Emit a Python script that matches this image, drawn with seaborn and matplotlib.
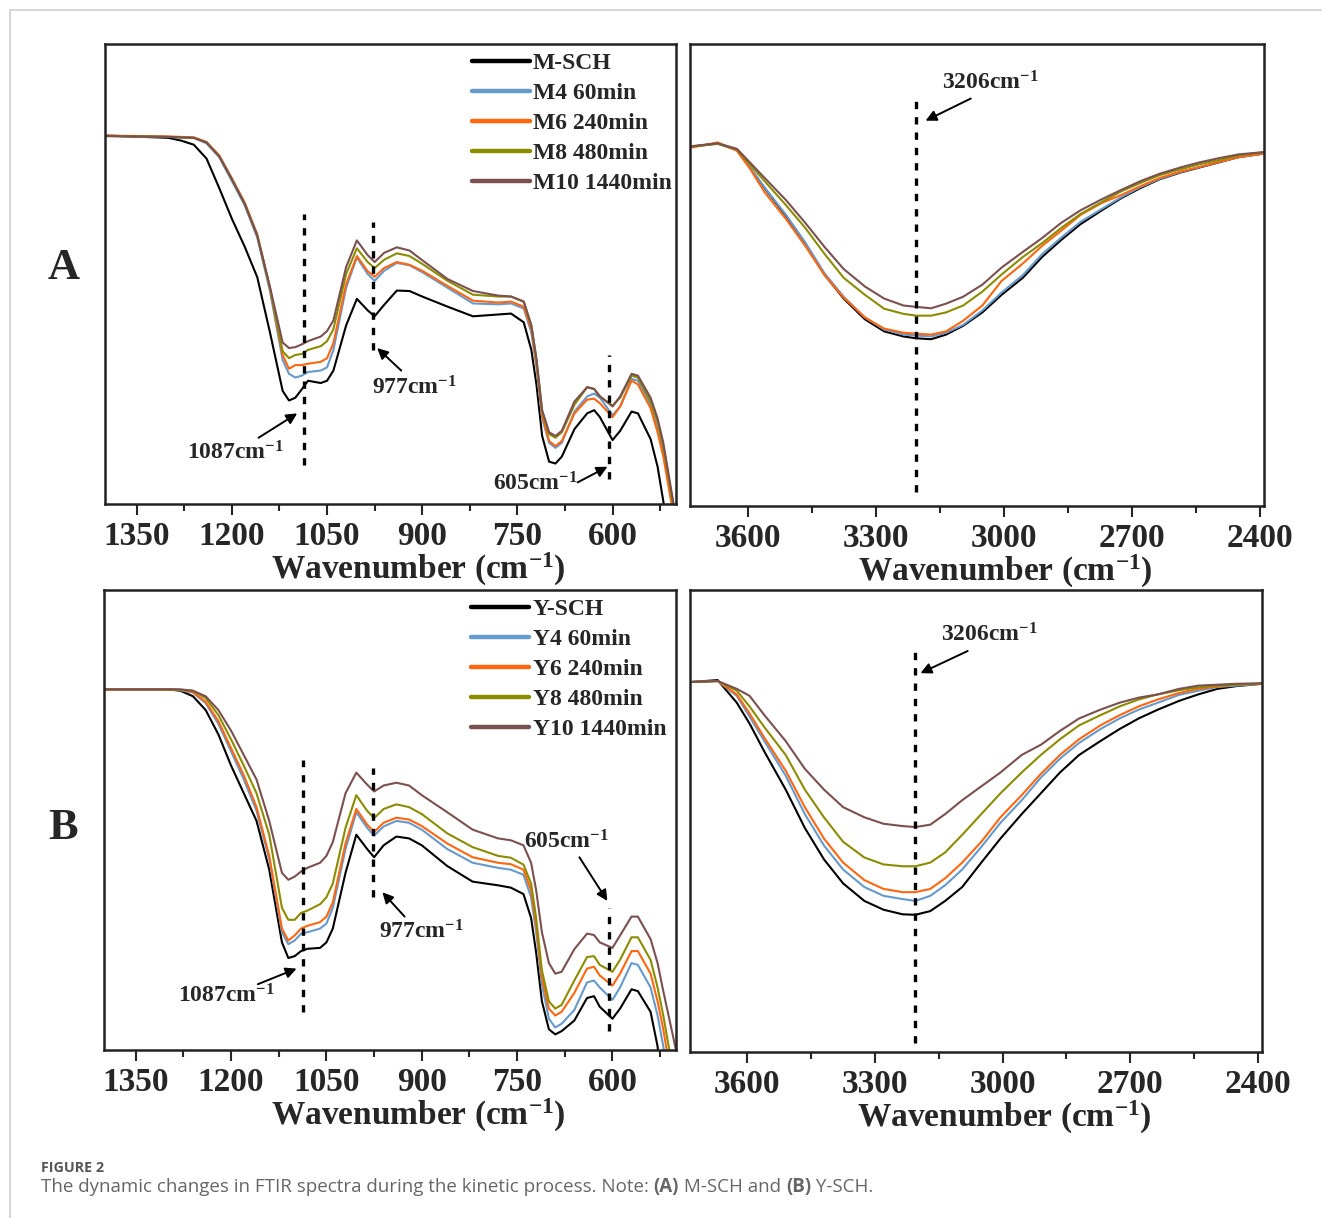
import pandas as pd
import seaborn as sns
import matplotlib.pyplot as plt
from matplotlib.lines import Line2D
from matplotlib.ticker import MultipleLocator

# wavenumber grids (cm-1)
wn_low = [1400, 1300, 1280, 1260, 1240, 1220, 1200, 1180, 1160, 1140, 1120, 1110,
          1100, 1090, 1080, 1060, 1050, 1040, 1020, 1003, 986, 975, 960, 940, 920,
          900, 860, 820, 780, 760, 740, 728, 720, 711, 700, 690, 680, 660, 640, 629,
          620, 600, 588, 570, 560, 540, 529, 520, 500]
wn_high = [3730, 3670, 3625, 3595, 3560, 3510, 3465, 3420, 3375, 3325, 3280, 3235,
           3205, 3170, 3135, 3095, 3050, 3005, 2955, 2910, 2865, 2820, 2770, 2725,
           2680, 2635, 2585, 2540, 2495, 2450, 2390]

labels_a = ['M-SCH', 'M4 60min', 'M6 240min', 'M8 480min', 'M10 1440min']
labels_b = ['Y-SCH', 'Y4 60min', 'Y6 240min', 'Y8 480min', 'Y10 1440min']
colors = ['#000000', '#6699cc', '#ff6610', '#8c8c00', '#7b5050']

# panel A, 1400-500 cm-1 (relative transmittance, arbitrary units)
a_low_sch = [80.1, 79.6, 79.0, 78.1, 75.1, 68.7, 62.0, 56.0, 49.3, 37.3, 24.6, 22.5,
             23.1, 24.9, 26.8, 26.3, 26.8, 29.0, 38.8, 44.6, 42.1, 40.8, 43.3, 46.4,
             46.3, 45.1, 42.9, 40.8, 41.2, 41.4, 39.5, 33.5, 26.0, 14.8, 9.2, 8.8,
             10.3, 16.3, 19.7, 20.4, 18.9, 13.9, 15.9, 20.1, 19.7, 14.1, 8.1, 0.6, -18.9]
a_low_4 = [80.0, 79.8, 79.7, 79.6, 78.4, 75.4, 70.2, 65.0, 57.9, 46.3, 31.3, 28.3,
           27.5, 27.9, 28.7, 29.0, 29.7, 33.5, 47.0, 53.6, 50.0, 48.5, 50.7, 52.4,
           51.9, 50.4, 47.0, 43.6, 43.4, 43.6, 42.5, 37.3, 29.8, 18.6, 13.3, 12.2,
           13.3, 20.1, 23.4, 24.0, 23.1, 19.3, 21.2, 27.2, 26.8, 21.6, 16.3, 11.1, -5.4]
a_low_6 = [80.1, 79.9, 79.8, 79.7, 78.7, 75.8, 70.8, 65.6, 58.6, 47.0, 32.4, 29.4,
           30.2, 30.2, 30.5, 30.9, 31.7, 35.0, 47.8, 53.9, 50.6, 49.4, 51.3, 52.6,
           52.0, 50.7, 47.4, 44.2, 43.8, 44.0, 42.9, 38.0, 30.5, 19.3, 13.7, 12.6,
           13.7, 19.7, 22.7, 22.9, 21.9, 18.9, 21.2, 26.8, 26.0, 20.8, 15.6, 10.3, -5.4]
a_low_8 = [80.0, 79.8, 79.7, 79.6, 78.6, 75.6, 70.6, 65.3, 58.3, 46.9, 33.2, 31.7,
           32.4, 32.6, 33.5, 34.3, 35.4, 38.0, 50.0, 55.6, 52.6, 51.3, 53.1, 54.5,
           53.9, 52.2, 48.5, 45.5, 45.1, 45.1, 44.0, 38.8, 31.3, 20.1, 15.2, 14.4,
           15.6, 21.6, 25.4, 25.0, 23.4, 21.4, 23.1, 27.9, 27.5, 22.3, 17.8, 12.6, -3.9]
a_low_10 = [80.0, 79.8, 79.7, 79.6, 78.6, 75.6, 70.6, 65.3, 58.4, 47.2, 35.1, 33.9,
            34.1, 34.7, 35.4, 36.4, 37.6, 39.9, 51.5, 57.3, 54.1, 52.6, 54.6, 55.8,
            55.1, 53.0, 48.9, 46.3, 45.3, 45.1, 44.0, 38.8, 31.7, 20.4, 15.6, 14.8,
            15.9, 22.3, 25.4, 25.0, 23.4, 21.2, 23.4, 28.3, 27.9, 23.1, 18.6, 13.3, -3.1]

# panel A, 3730-2390 cm-1
a_high_sch = [77.8, 78.5, 77.0, 73.3, 68.8, 62.8, 56.9, 50.1, 44.9, 40.4, 37.8, 36.7,
              36.3, 36.1, 37.1, 39.0, 41.9, 45.7, 49.4, 53.9, 57.6, 61.0, 64.0, 66.6,
              68.8, 70.7, 72.2, 73.3, 74.4, 75.5, 76.3]
a_high_4 = [77.8, 78.4, 77.2, 73.4, 68.9, 63.0, 57.0, 50.4, 45.3, 40.8, 38.2, 37.1,
            36.9, 36.7, 37.5, 39.2, 42.3, 46.2, 50.0, 54.5, 58.1, 61.5, 64.3, 66.8,
            69.0, 70.8, 72.3, 73.4, 74.5, 75.5, 76.3]
a_high_6 = [77.6, 78.7, 76.9, 73.1, 67.9, 62.1, 56.3, 50.0, 45.1, 40.8, 38.4, 37.5,
            37.3, 37.1, 37.8, 40.1, 43.4, 48.7, 52.5, 56.3, 59.6, 63.0, 65.6, 67.3,
            69.2, 71.0, 72.4, 73.4, 74.5, 75.5, 76.3]
a_high_8 = [77.8, 78.4, 77.2, 74.0, 70.3, 65.1, 60.2, 54.6, 49.4, 45.7, 42.7, 41.6,
            41.2, 41.2, 41.9, 43.4, 46.4, 50.1, 53.9, 56.9, 60.2, 63.2, 65.8, 68.1,
            69.9, 71.6, 72.9, 74.0, 74.9, 75.9, 76.6]
a_high_10 = [77.9, 78.5, 77.3, 74.4, 71.0, 66.2, 61.3, 56.1, 51.3, 47.5, 44.9, 43.4,
             43.1, 42.8, 43.8, 45.3, 47.9, 51.6, 55.0, 58.0, 61.3, 64.0, 66.4, 68.4,
             70.3, 71.9, 73.3, 74.4, 75.3, 76.1, 76.6]

# panel B, 1400-500 cm-1
b_low_sch = [78.4, 78.4, 78.1, 76.9, 73.9, 68.6, 61.8, 55.8, 49.8, 39.2, 23.4, 20.0,
             20.4, 21.5, 22.0, 22.2, 23.4, 26.4, 38.5, 46.8, 43.7, 41.9, 44.5, 46.4,
             46.0, 44.5, 40.0, 36.6, 35.8, 35.3, 33.9, 28.7, 21.1, 10.6, 4.5, 3.4,
             4.1, 6.4, 11.3, 11.7, 9.4, 6.8, 9.0, 13.2, 12.8, 8.3, 0.8, -12.1, -27.1]
b_low_4 = [78.4, 78.4, 78.2, 77.7, 75.4, 70.9, 64.9, 58.8, 52.0, 41.5, 25.6, 23.0,
           23.8, 25.3, 25.6, 26.4, 27.5, 30.9, 43.7, 51.7, 48.3, 46.6, 48.6, 49.8,
           49.4, 47.9, 43.7, 40.7, 39.6, 39.2, 38.1, 33.2, 25.6, 14.3, 6.8, 4.9,
           5.7, 8.7, 14.7, 15.1, 13.6, 10.9, 13.6, 18.9, 18.5, 13.6, 7.5, 0.8, -19.6]
b_low_6 = [78.4, 78.4, 78.3, 77.8, 75.7, 71.5, 65.6, 59.7, 52.8, 42.2, 26.4, 23.8,
           24.9, 26.4, 27.0, 27.8, 29.0, 32.1, 44.9, 52.4, 49.0, 47.4, 49.4, 50.5,
           50.1, 48.7, 44.9, 41.9, 40.7, 40.4, 39.2, 34.7, 27.1, 15.8, 9.0, 7.5,
           8.3, 12.4, 17.7, 18.1, 16.2, 14.0, 16.6, 21.5, 21.5, 16.6, 10.6, 4.5, -12.1]
b_low_8 = [78.4, 78.4, 78.3, 78.1, 76.5, 72.8, 67.5, 61.8, 55.8, 46.8, 30.9, 28.3,
           28.3, 29.8, 30.3, 31.7, 33.2, 36.2, 48.3, 55.4, 52.0, 50.4, 52.4, 53.4,
           52.8, 51.3, 47.1, 44.1, 42.2, 41.8, 40.3, 36.2, 28.7, 17.3, 10.6, 9.0,
           9.8, 15.1, 20.2, 20.4, 18.5, 17.0, 19.6, 24.5, 24.5, 19.6, 13.6, 7.5, -8.3]
b_low_10 = [78.4, 78.4, 78.4, 78.1, 76.9, 73.9, 69.4, 64.1, 58.8, 49.8, 38.5, 37.0,
            37.7, 38.8, 39.6, 40.7, 42.2, 45.2, 55.8, 60.3, 57.7, 56.2, 57.5, 58.1,
            57.5, 55.4, 51.7, 47.9, 46.0, 45.6, 44.5, 40.7, 34.7, 25.6, 18.9, 16.6,
            17.0, 21.9, 25.3, 25.0, 23.4, 22.2, 24.9, 29.0, 29.0, 24.1, 18.9, 12.8, 0.0]

# panel B, 3730-2390 cm-1
b_high_sch = [80.1, 80.5, 75.6, 71.1, 65.0, 56.8, 48.5, 41.7, 36.5, 32.7, 30.8, 29.8,
              29.7, 30.5, 32.7, 35.7, 41.0, 46.2, 51.5, 56.0, 60.5, 64.3, 67.3, 69.9,
              72.2, 74.1, 76.0, 77.4, 78.6, 79.2, 79.7]
b_high_4 = [80.1, 80.3, 77.1, 72.6, 67.3, 59.8, 51.5, 44.7, 39.5, 35.7, 33.8, 33.1,
            32.7, 33.8, 36.1, 39.5, 44.4, 49.6, 54.5, 59.4, 63.5, 66.9, 69.9, 72.2,
            74.1, 75.6, 77.3, 78.2, 79.0, 79.3, 79.7]
b_high_6 = [80.1, 80.3, 77.4, 73.3, 68.0, 60.9, 53.0, 46.2, 41.0, 37.2, 35.3, 34.6,
            34.6, 35.3, 37.6, 41.0, 45.5, 50.8, 55.6, 60.2, 64.3, 67.7, 70.7, 72.9,
            74.8, 76.3, 77.7, 78.6, 79.1, 79.5, 79.7]
b_high_8 = [80.1, 80.3, 78.2, 74.8, 70.3, 64.3, 56.8, 50.8, 45.5, 42.1, 40.6, 40.2,
            40.2, 41.0, 43.2, 47.0, 51.5, 56.0, 60.5, 64.3, 67.7, 70.7, 72.9, 74.8,
            76.3, 77.4, 78.3, 78.9, 79.3, 79.5, 79.8]
b_high_10 = [80.1, 80.3, 78.6, 77.1, 72.9, 67.3, 61.3, 56.8, 53.0, 50.8, 49.4, 48.9,
             48.7, 49.2, 51.5, 54.5, 57.5, 60.5, 64.3, 66.5, 69.5, 72.2, 74.1, 75.6,
             76.7, 77.4, 78.6, 79.3, 79.5, 79.7, 79.8]

sns.set_style('ticks')
plt.rcParams['font.family'] = ['Liberation Serif', 'DejaVu Serif']
plt.rcParams['font.weight'] = 'bold'
plt.rcParams['mathtext.fontset'] = 'custom'
plt.rcParams['mathtext.rm'] = 'Liberation Serif:bold'
plt.rcParams['mathtext.bf'] = 'Liberation Serif:bold'
plt.rcParams['mathtext.it'] = 'Liberation Serif:bold:italic'
plt.rcParams['mathtext.default'] = 'bf'

CM = r'cm$^{-1}$'


def draw_panel(ax, wn, curves, labels, xlim, legend=False):
    df = pd.concat([pd.DataFrame({'wn': wn, 'T': c, 'sample': lab})
                    for c, lab in zip(curves, labels)])
    sns.lineplot(data=df, x='wn', y='T', hue='sample', palette=colors,
                 estimator=None, linewidth=1.5, ax=ax, legend=legend)
    ax.set_xlim(*xlim)
    ax.set_ylim(0, 100)
    ax.set_yticks([])
    ax.set_ylabel('')
    ax.set_xlabel('Wavenumber (' + CM + ')', fontsize=24, fontweight='bold')
    ax.xaxis.set_label_coords(0.5 + 28 / 571, -0.102)
    step = 150 if xlim[0] < 2000 else 300
    ax.xaxis.set_major_locator(MultipleLocator(step))
    ax.xaxis.set_minor_locator(MultipleLocator(step / 2))
    ax.tick_params(axis='x', which='major', length=8, width=1.5, labelsize=24, pad=4)
    ax.tick_params(axis='x', which='minor', length=5, width=1.5)
    for lab in ax.get_xticklabels():
        lab.set_fontweight('bold')
    for s in ax.spines.values():
        s.set_linewidth(1.8)
        s.set_color('#222222')
    if legend:
        h, l = ax.get_legend_handles_labels()
        leg = ax.legend(h, l, loc='upper left', bbox_to_anchor=(0.638, 0.986),
                        frameon=False, fontsize=17, handlelength=2.45,
                        handletextpad=0.15, labelspacing=0.36, borderpad=0.1,
                        borderaxespad=0)
        for line in leg.get_lines():
            line.set_linewidth(3.2)
        for t in leg.get_texts():
            t.set_fontweight('bold')


def mark(ax, x, y0, y1):
    ax.plot([x, x], [y0, y1], color='black', lw=2.4, linestyle=(0, (2.2, 2.4)))


def note(ax, text, pos, tail, head):
    ax.text(pos[0], pos[1], text, fontsize=17, fontweight='bold',
            ha='center', va='center')
    ax.annotate('', xy=head, xytext=tail,
                arrowprops=dict(arrowstyle='-|>', color='black', lw=1.4,
                                mutation_scale=16, shrinkA=0, shrinkB=0))


fig = plt.figure(figsize=(13.22, 12.18), dpi=100)
W, H = 1322, 1218
ax_a1 = fig.add_axes([105 / W, 1 - 504 / H, 571 / W, 460 / H])
ax_a2 = fig.add_axes([690 / W, 1 - 506 / H, 574 / W, 462 / H])
ax_b1 = fig.add_axes([104 / W, 1 - 1050 / H, 572 / W, 460 / H])
ax_b2 = fig.add_axes([690 / W, 1 - 1052 / H, 572 / W, 462 / H])

draw_panel(ax_a1, wn_low, [a_low_sch, a_low_4, a_low_6, a_low_8, a_low_10],
           labels_a, (1400, 500), legend=True)
draw_panel(ax_a2, wn_high, [a_high_sch, a_high_4, a_high_6, a_high_8, a_high_10],
           labels_a, (3735, 2390))
draw_panel(ax_b1, wn_low, [b_low_sch, b_low_4, b_low_6, b_low_8, b_low_10],
           labels_b, (1400, 500), legend=True)
draw_panel(ax_b2, wn_high, [b_high_sch, b_high_4, b_high_6, b_high_8, b_high_10],
           labels_b, (3735, 2390))

# band markers and labels
mark(ax_a1, 1087, 8.5, 63.1)
mark(ax_a1, 977, 33.5, 61.2)
mark(ax_a1, 605, 5.5, 32.4)
note(ax_a1, '1087' + CM, (1194, 11.1), (1158, 14.4), (1097, 19.7))
note(ax_a1, '977' + CM, (912, 25.3), (933, 29.0), (971, 33.9))
note(ax_a1, '605' + CM, (722, 4.3), (655, 4.7), (608, 8.1))

mark(ax_a2, 3206, 3.1, 89.0)
note(ax_a2, '3206' + CM, (3031, 91.6), (3077, 88.2), (3183, 83.4))

mark(ax_b1, 1087, 8.3, 63.0)
mark(ax_b1, 977, 33.2, 61.2)
mark(ax_b1, 605, 4.1, 30.9)
note(ax_b1, '1087' + CM, (1208, 11.7), (1158, 14.3), (1097, 17.7))
note(ax_b1, '977' + CM, (901, 25.6), (927, 29.0), (962, 34.3))
note(ax_b1, '605' + CM, (673, 45.2), (652, 41.9), (608, 32.4))

mark(ax_b2, 3206, 1.9, 87.6)
note(ax_b2, '3206' + CM, (3031, 90.2), (3082, 86.8), (3193, 82.0))

fig.text(64 / W, 1 - 268 / H, 'A', fontsize=32, fontweight='bold', ha='center', va='center')
fig.text(63 / W, 1 - 828 / H, 'B', fontsize=32, fontweight='bold', ha='center', va='center')

# page frame
fig.add_artist(Line2D([10 / W, 1], [1 - 10 / H, 1 - 10 / H], color='#cfcfcf', lw=1.2))
fig.add_artist(Line2D([10 / W, 10 / W], [0, 1 - 10 / H], color='#cfcfcf', lw=1.2))

# caption
cap_font = ['Open Sans', 'DejaVu Sans']
fig.text(41 / W, 1 - 1168 / H, 'FIGURE 2', fontsize=10.3, color='#555555',
         family=cap_font, va='center')
parts = [('The dynamic changes in FTIR spectra during the kinetic process. Note: ', 'normal'),
         ('(A)', 'bold'), (' M-SCH and ', 'normal'), ('(B)', 'bold'), (' Y-SCH.', 'normal')]
fig.canvas.draw()
renderer = fig.canvas.get_renderer()
x = 41
for txt, wt in parts:
    t = fig.text(x / W, 1 - 1187 / H, txt, fontsize=13.5, color='#666666',
                 family=cap_font, weight=wt, va='center')
    x = t.get_window_extent(renderer).x1

fig.savefig('out.png', dpi=100)
